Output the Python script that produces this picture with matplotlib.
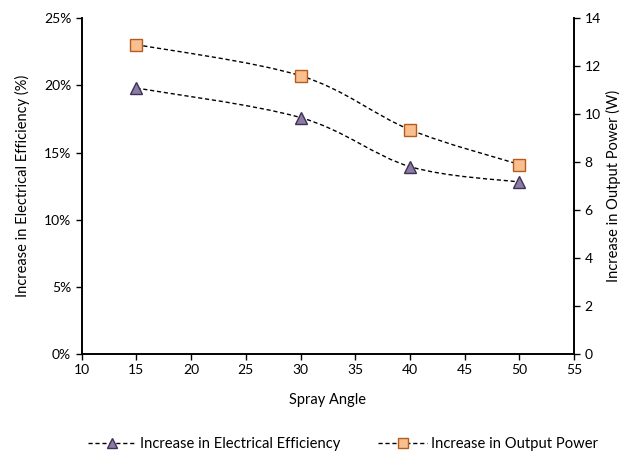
import matplotlib
matplotlib.use('Agg')
import matplotlib.pyplot as plt
from matplotlib.path import Path
from matplotlib.patches import PathPatch
from matplotlib.lines import Line2D
from matplotlib.ticker import FuncFormatter

plt.rcParams['font.family'] = ['Lato', 'DejaVu Sans']

# Datos
angulos = [15, 30, 40, 50]
eficiencia = [19.8, 17.6, 13.95, 12.8]   # %
potencia = [12.9, 11.6, 9.35, 7.9]       # W

color_tri = '#8B7BA6'
borde_tri = '#3F3152'
color_cua = '#F9BF8F'
borde_cua = '#B35C1E'


def curva_suave(ax, xs, ys):
    # curva tipo Excel (Catmull-Rom -> Bezier)
    pts = list(zip(xs, ys))
    verts = [pts[0]]
    codes = [Path.MOVETO]
    n = len(pts)
    for i in range(n - 1):
        p0 = pts[i - 1] if i > 0 else pts[i]
        p1 = pts[i]
        p2 = pts[i + 1]
        p3 = pts[i + 2] if i + 2 < n else pts[i + 1]
        c1 = (p1[0] + (p2[0] - p0[0]) / 6, p1[1] + (p2[1] - p0[1]) / 6)
        c2 = (p2[0] - (p3[0] - p1[0]) / 6, p2[1] - (p3[1] - p1[1]) / 6)
        verts += [c1, c2, p2]
        codes += [Path.CURVE4] * 3
    patch = PathPatch(Path(verts, codes), facecolor='none', edgecolor='black',
                      linestyle=(0, (3, 2)), linewidth=1.0, zorder=2)
    ax.add_patch(patch)


fig, ax = plt.subplots(figsize=(6.38, 4.55), dpi=100)
ax2 = ax.twinx()

curva_suave(ax, angulos, eficiencia)
ax.plot(angulos, eficiencia, linestyle='none', marker='^', markersize=9,
        markerfacecolor=color_tri, markeredgecolor=borde_tri, markeredgewidth=1.0, zorder=3)

curva_suave(ax2, angulos, potencia)
ax2.plot(angulos, potencia, linestyle='none', marker='s', markersize=8,
         markerfacecolor=color_cua, markeredgecolor=borde_cua, markeredgewidth=1.0, zorder=3)

ax.set_xlim(10, 55)
ax.set_ylim(0, 25)
ax2.set_ylim(0, 14)
ax.set_xticks(range(10, 56, 5))
ax.set_yticks(range(0, 26, 5))
ax2.set_yticks(range(0, 15, 2))
ax.yaxis.set_major_formatter(FuncFormatter(lambda v, p: f'{v:.0f}%'))

for a in (ax, ax2):
    for s in a.spines.values():
        s.set_linewidth(1.2)
    a.tick_params(direction='out', length=4, width=1.0, labelsize=10)
ax.spines['top'].set_visible(False)
ax2.spines['top'].set_visible(False)

ax.set_xlabel('Spray Angle', fontsize=10.5, labelpad=12)
ax.set_ylabel('Increase in Electrical Efficiency (%)', fontsize=10.5, labelpad=10)
ax2.set_ylabel('Increase in Output Power (W)', fontsize=10.5, labelpad=4)

h1 = Line2D([], [], color='black', linestyle=(0, (3, 2)), linewidth=1.0, marker='^',
            markersize=7, markerfacecolor=color_tri, markeredgecolor=borde_tri)
h2 = Line2D([], [], color='black', linestyle=(0, (3, 2)), linewidth=1.0, marker='s',
            markersize=7, markerfacecolor=color_cua, markeredgecolor=borde_cua)
fig.legend([h1, h2], ['Increase in Electrical Efficiency', 'Increase in Output Power'],
           loc='lower center', bbox_to_anchor=(0.537, -0.02), ncol=2, frameon=False,
           fontsize=10.6, columnspacing=2.6, handlelength=3.3, handletextpad=0.25)

fig.subplots_adjust(left=0.128, right=0.9, top=0.96, bottom=0.222)
fig.savefig('out.png', dpi=100)
